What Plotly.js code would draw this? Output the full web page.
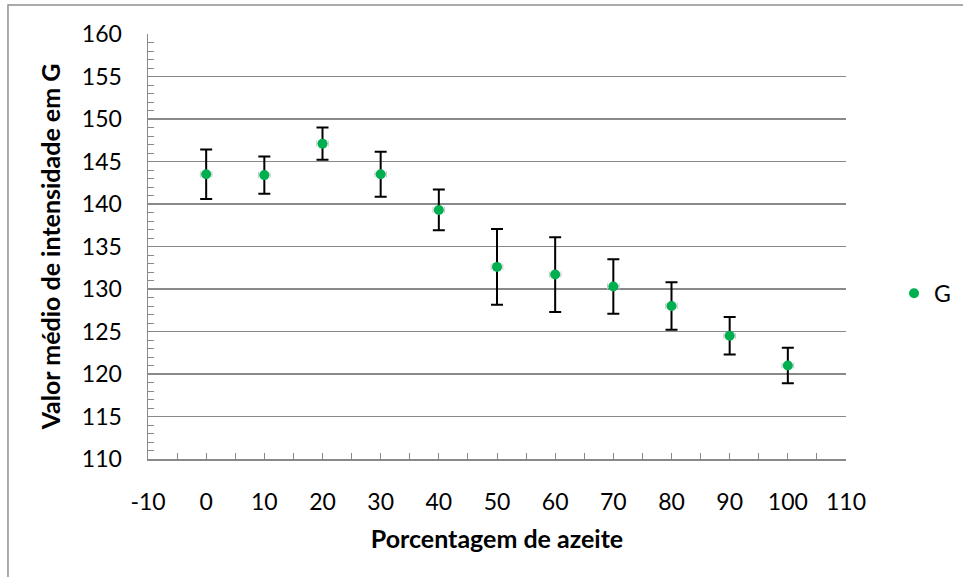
<!DOCTYPE html>
<html>
<head>
<meta charset="utf-8">
<script src="https://cdn.plot.ly/plotly-3.0.1.min.js"></script>
<style>html,body{margin:0;padding:0;background:#fff;}#chart{width:963px;height:577px;}</style>
</head>
<body>
<div id="chart"></div>
<script>
const percentages = [0, 10, 20, 30, 40, 50, 60, 70, 80, 90, 100];
const meanG = [143.5, 143.4, 147.1, 143.5, 139.3, 132.6, 131.7, 130.3, 128.0, 124.5, 121.0];
const errG = [2.9, 2.2, 1.9, 2.65, 2.4, 4.45, 4.4, 3.2, 2.8, 2.2, 2.1];
const errX = [1, 1, 1, 1, 1, 1, 1, 1, 1, 1, 1];
const xTickVals = [-10, 0, 10, 20, 30, 40, 50, 60, 70, 80, 90, 100, 110];
const xTickText = ['-10', '0', '10', '20', '30', '40', '50', '60', '70', '80', '90', '100', '110'];
const seriesName = 'G';
const xTitle = 'Porcentagem de azeite';
const yTitle = 'Valor médio de intensidade em G';

const FONT = 'Lato, "Open Sans", sans-serif';
const GRAY = '#898989';

const trace = {
  x: percentages, y: meanG, type: 'scatter', mode: 'markers', name: seriesName,
  marker: {color: '#00B050', size: 10},
  error_y: {type: 'data', array: errG, visible: true, color: '#000000', thickness: 2, width: 6},
  error_x: {type: 'data', array: errX, visible: true, color: '#C8C8C8', thickness: 1, width: 3}
};

const layout = {
  width: 963, height: 577,
  margin: {l: 148, r: 117, t: 34, b: 118, autoexpand: false},
  paper_bgcolor: '#ffffff', plot_bgcolor: '#ffffff',
  font: {family: FONT, size: 23, color: '#000000'},
  showlegend: true,
  legend: {x: 1.0688, xanchor: 'left', y: 0.39, yanchor: 'middle', bgcolor: 'rgba(0,0,0,0)', borderwidth: 0, font: {family: FONT, size: 23}},
  xaxis: {
    range: [-10, 110], tickmode: 'array', tickvals: xTickVals, ticktext: xTickText,
    showgrid: false, zeroline: false,
    showline: true, linecolor: GRAY, linewidth: 1.5,
    ticks: 'inside', ticklen: 6, tickcolor: GRAY, tickwidth: 1,
    minor: {tickmode: 'linear', tick0: -10, dtick: 5, ticks: 'inside', ticklen: 6, tickcolor: GRAY, showgrid: false},
    ticklabelstandoff: 22,
    title: {text: '<b>' + xTitle + '</b>', font: {family: FONT, size: 25}, standoff: 16}
  },
  yaxis: {
    range: [110, 160], tick0: 110, dtick: 5, showgrid: true, gridcolor: GRAY, gridwidth: 1.5, zeroline: false,
    showline: true, linecolor: GRAY, linewidth: 1.5,
    ticks: 'inside', ticklen: 6, tickcolor: GRAY, tickwidth: 1,
    minor: {dtick: 1, ticks: 'inside', ticklen: 6, tickcolor: GRAY, showgrid: false},
    ticklabelstandoff: 20,
    title: {text: '<b>' + yTitle + '</b>', font: {family: FONT, size: 25}, standoff: 14}
  },
  shapes: [{type: 'rect', xref: 'paper', yref: 'paper', x0: -0.2006, x1: 1.6, y0: -0.6, y1: 1.068,
            line: {color: '#8f8f8f', width: 1.5}, fillcolor: 'rgba(0,0,0,0)', layer: 'below'}]
};

Plotly.newPlot('chart', [trace], layout, {displayModeBar: false, staticPlot: true});
</script>
</body>
</html>
